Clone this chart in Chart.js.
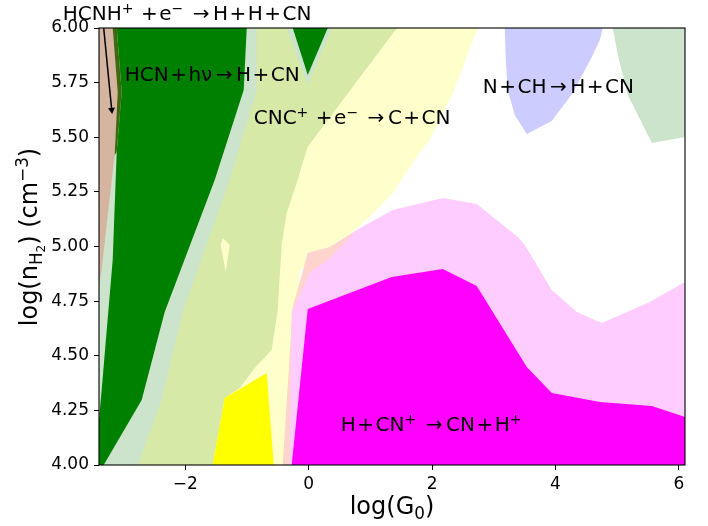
<!DOCTYPE html>
<html>
<head>
<meta charset="utf-8">
<script src="https://cdn.jsdelivr.net/npm/chart.js@4.4.1/dist/chart.umd.min.js"></script>
<style>
  html, body { margin: 0; padding: 0; background: #fff; }
</style>
</head>
<body>
<canvas id="chart" width="708" height="526"></canvas>
<script>
// axis ticks
const xTicks = [-2, 0, 2, 4, 6];
const yTicks = [4.00, 4.25, 4.50, 4.75, 5.00, 5.25, 5.50, 5.75, 6.00];

// dominant formation-route regions, [log G0, log nH2] outlines
const paleYellow = [[-3.4, 6], [2.74, 6], [2.32, 5.69], [1.96, 5.49], [1.77, 5.42], [1.36, 5.245],
    [1.07, 5.158], [0.746, 5.075], [0.34, 4.998], [-0.146, 4.89], [-0.39, 4], [-3.4, 4]];
const yellowGreen = [[-3.4, 6], [1.43, 6], [-0.02, 5.455], [-0.18, 5.304], [-0.357, 5.153],
    [-0.438, 5.011], [-0.503, 4.709], [-0.60, 4.526], [-0.876, 4.444], [-1.119, 4.352],
    [-1.362, 4.307], [-1.557, 4], [-3.4, 4]];
const paleSliver = [[-1.395, 5.039], [-1.281, 5.007], [-1.346, 4.883], [-1.427, 5.007]];
const lightStrip = [[-3.4, 6], [-0.843, 6], [-0.843, 5.716], [-1.281, 5.304], [-2.043, 4.70],
    [-2.384, 4.297], [-2.773, 4], [-3.4, 4]];
const brown = [[-3.4, 6], [-3.178, 6], [-3.097, 5.707], [-3.146, 5.419], [-3.276, 5.098],
    [-3.357, 4.892], [-3.4, 4.824]];
const olive = [[-3.178, 6], [-3.113, 6], [-3.032, 5.707], [-3.113, 5.432], [-3.146, 5.419], [-3.097, 5.707]];
const green = [[-3.113, 6], [-1.005, 6], [-1.054, 5.716], [-1.524, 5.304], [-2.335, 4.70],
    [-2.708, 4.297], [-3.324, 4], [-3.4, 4], [-3.4, 4.206], [-3.357, 4.343], [-3.178, 4.938],
    [-3.113, 5.432], [-3.032, 5.707]];
const topStrip = [[-0.357, 6], [0.373, 6], [-0.016, 5.739]];
const topGreen = [[-0.259, 6], [0.308, 6], [-0.016, 5.785]];
const brightYellow = [[-1.557, 4], [-1.362, 4.307], [-0.681, 4.421], [-0.568, 4]];
const peach = [[-0.422, 4], [-0.259, 4.723], [-0.016, 4.97], [0.34, 4.998], [0.778, 5.076],
    [1.07, 5.112], [0.503, 4.755], [-0.146, 4]];
const pink = [[-0.308, 4], [-0.276, 4.70], [0.016, 4.879], [0.34, 4.947], [0.778, 5.076],
    [1.362, 5.167], [2.173, 5.222], [2.724, 5.195], [3.389, 5.043], [3.502, 5.007], [3.94, 4.801],
    [4.346, 4.70], [4.751, 4.65], [5.53, 4.746], [6.1, 4.838], [6.1, 4]];
const magenta = [[-0.276, 4], [-0.016, 4.714], [1.346, 4.86], [2.173, 4.897], [2.724, 4.819],
    [2.984, 4.70], [3.535, 4.449], [3.94, 4.33], [4.719, 4.288], [5.562, 4.27], [6.1, 4.22], [6.1, 4]];
const lavender = [[3.178, 6], [4.767, 6], [4.719, 5.945], [4.605, 5.876], [4.281, 5.703],
    [3.94, 5.574], [3.535, 5.515], [3.34, 5.602], [3.227, 5.716], [3.194, 5.854]];
const cornerGreen = [[4.929, 6], [6.1, 6], [6.1, 5.501], [5.562, 5.474], [5.173, 5.693], [5.011, 5.876]];
const arrowLine = [[-3.324, 6.0], [-3.194, 5.625]];

// back to front
const layers = [
    { pts: paleYellow, color: '#ffffcc' },
    { pts: yellowGreen, color: '#d6e9a6' },
    { pts: paleSliver, color: '#ffffcc' },
    { pts: lightStrip, color: '#cce4cc' },
    { pts: brown, color: '#d5b5a0' },
    { pts: olive, color: '#436610' },
    { pts: green, color: '#008000' },
    { pts: topStrip, color: '#cce4cc' },
    { pts: topGreen, color: '#008000' },
    { pts: brightYellow, color: '#ffff00' },
    { pts: peach, color: '#ffd4cc' },
    { pts: pink, color: '#ffccff' },
    { pts: magenta, color: '#ff00ff' },
    { pts: lavender, color: '#ccccff' },
    { pts: cornerGreen, color: '#cce4cc' }
];

// reaction labels: [parts, log G0, log nH2] (left edge, baseline)
const notes = [
    [[['HCNH', 0], ['+', 1], ['+e', 0], ['\u2212', 1], ['\u2192H+H+CN', 0]], -3.989, 6.037],
    [[['HCN+h\u03bd\u2192H+CN', 0]], -2.984, 5.757],
    [[['CNC', 0], ['+', 1], ['+e', 0], ['\u2212', 1], ['\u2192C+CN', 0]], -0.892, 5.561],
    [[['N+CH\u2192H+CN', 0]], 2.821, 5.703],
    [[['H+CN', 0], ['+', 1], ['\u2192CN+H', 0], ['+', 1]], 0.519, 4.156]
];
const xLabel = [['log(G', 0], ['0', -1], [')', 0]];
const yLabel = [['log(n', 0], ['H', -1], ['2', -2], [') (cm', 0], ['\u22123', 1], [')', 0]];

const FONT = '"DejaVu Sans"';
const SCALE = { '0': 1, '1': 0.7, '-1': 0.7, '-2': 0.5 };
const SHIFT = { '0': 0, '1': -0.37, '-1': 0.2, '-2': 0.34 };
const GAP_PLUS = 1.5, GAP_ARROW = 3.5, SUP_GAP = 6;

function layoutRich(ctx, parts, size, gaps) {
    const items = [];
    let x = 0;
    parts.forEach(([t, lv]) => {
        const fs = size * SCALE[lv];
        ctx.font = fs + 'px ' + FONT;
        for (const ch of t) {
            let g = 0;
            if (gaps && lv === 0) g = ch === '\u2192' ? GAP_ARROW : (ch === '+' ? GAP_PLUS : 0);
            x += g;
            items.push({ ch, x, fs, dy: size * SHIFT[lv] });
            x += ctx.measureText(ch).width + g;
        }
        if (gaps && lv === 1) x += SUP_GAP;
    });
    return { items, width: x };
}

function drawRich(ctx, parts, x, y, size, align, gaps) {
    const lay = layoutRich(ctx, parts, size, gaps);
    const x0 = align === 'center' ? x - lay.width / 2 : x;
    ctx.fillStyle = '#000';
    ctx.textBaseline = 'alphabetic';
    ctx.textAlign = 'left';
    lay.items.forEach(it => {
        ctx.font = it.fs + 'px ' + FONT;
        ctx.fillText(it.ch, x0 + it.x, y + it.dy);
    });
}

const textPlugin = {
    id: 'texts',
    afterDraw(chart) {
        const { ctx, chartArea: a, scales: { x, y } } = chart;
        ctx.save();
        // spines
        ctx.strokeStyle = '#000';
        ctx.lineWidth = 1.1;
        ctx.strokeRect(a.left, a.top, a.right - a.left, a.bottom - a.top);
        notes.forEach(([parts, gx, gy]) => {
            drawRich(ctx, parts, x.getPixelForValue(gx), y.getPixelForValue(gy), 20, 'left', true);
        });
        drawRich(ctx, xLabel, (a.left + a.right) / 2, 514, 24, 'center', false);
        ctx.translate(37, 237);
        ctx.rotate(-Math.PI / 2);
        drawRich(ctx, yLabel, 0, 0, 24, 'center', false);
        ctx.restore();
    }
};

const datasets = layers.map((l, i) => ({
    data: l.pts.concat([l.pts[0]]).map(p => ({ x: p[0], y: p[1] })),
    showLine: true,
    fill: 'shape',
    backgroundColor: l.color,
    borderColor: 'rgba(0,0,0,0)',
    borderWidth: 0,
    pointRadius: 0,
    tension: 0,
    order: 100 - i
}));
datasets.push({
    data: arrowLine.map(p => ({ x: p[0], y: p[1] })),
    showLine: true,
    fill: false,
    borderColor: '#000',
    borderWidth: 1.5,
    pointRadius: [0, 4],
    pointStyle: 'triangle',
    rotation: 174,
    pointBackgroundColor: '#000',
    pointBorderWidth: 0,
    order: 1
});

new Chart(document.getElementById('chart'), {
    type: 'scatter',
    data: { datasets },
    options: {
        responsive: false,
        animation: false,
        layout: { padding: { left: 0, right: 23, top: 28, bottom: 0 } },
        plugins: { legend: { display: false }, tooltip: { enabled: false } },
        scales: {
            x: {
                type: 'linear', min: -3.4, max: 6.1,
                afterBuildTicks: ax => { ax.ticks = xTicks.map(v => ({ value: v })); },
                afterFit: ax => { ax.height = 61; },
                ticks: {
                    color: '#000', font: { family: 'DejaVu Sans', size: 17 }, padding: 4,
                    callback: v => v < 0 ? '\u2212' + Math.abs(v) : String(v)
                },
                grid: { drawOnChartArea: false, color: '#000', tickLength: 5, tickWidth: 1 },
                border: { display: false }
            },
            y: {
                type: 'linear', min: 4, max: 6,
                afterBuildTicks: ax => { ax.ticks = yTicks.map(v => ({ value: v })); },
                afterFit: ax => { ax.width = 99; },
                ticks: {
                    color: '#000', font: { family: 'DejaVu Sans', size: 17 }, padding: 5,
                    callback: v => Number(v).toFixed(2)
                },
                grid: { drawOnChartArea: false, color: '#000', tickLength: 5, tickWidth: 1 },
                border: { display: false }
            }
        }
    },
    plugins: [textPlugin]
});
</script>
</body>
</html>
